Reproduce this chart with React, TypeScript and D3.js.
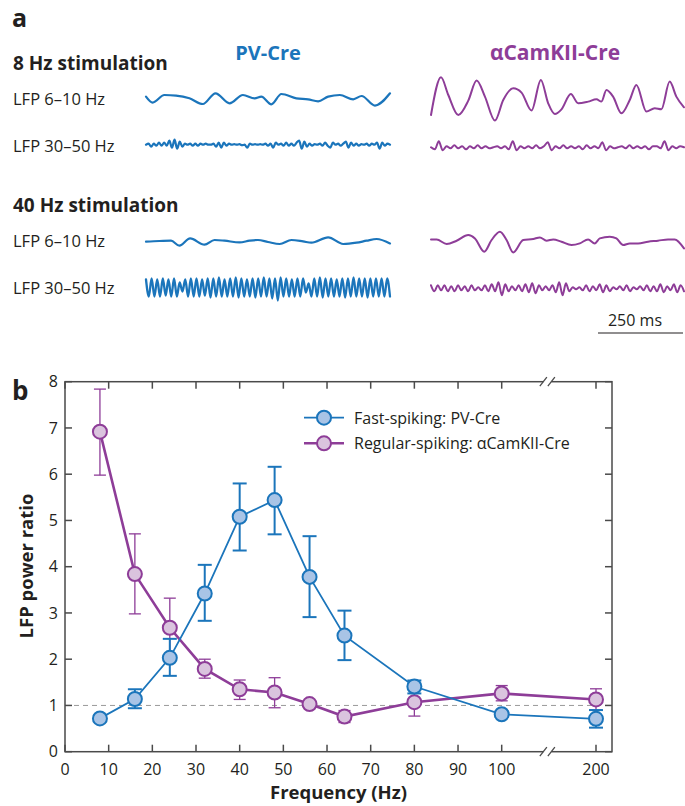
import * as d3 from "d3";

// ---------- panel b data (LFP power ratio vs stimulation frequency) ----------
const FREQS = [8, 16, 24, 32, 40, 48, 56, 64, 80, 100, 200];
const PV_MEAN = [0.72, 1.14, 2.03, 3.42, 5.08, 5.44, 3.78, 2.51, 1.41, 0.81, 0.71];
const PV_LO = [0.66, 0.94, 1.64, 2.83, 4.35, 4.7, 2.91, 1.98, 1.26, 0.75, 0.52];
const PV_HI = [0.78, 1.35, 2.44, 4.04, 5.8, 6.16, 4.66, 3.05, 1.54, 0.87, 0.9];
const CAM_MEAN = [6.92, 3.84, 2.68, 1.79, 1.35, 1.28, 1.03, 0.76, 1.07, 1.26, 1.13];
const CAM_LO = [5.98, 2.98, 2.07, 1.59, 1.13, 0.95, 0.97, 0.63, 0.77, 1.1, 0.9];
const CAM_HI = [7.84, 4.71, 3.32, 2.0, 1.55, 1.6, 1.09, 0.89, 1.37, 1.43, 1.36];
const X_TICKS = [0, 10, 20, 30, 40, 50, 60, 70, 80, 90, 100, 200];
const Y_TICKS = [0, 1, 2, 3, 4, 5, 6, 7, 8];
const BREAK_AT = 150;

// ---------- panel a data (example LFP traces, a.u.) ----------
// 8 Hz stim, PV-Cre, 6-10 Hz band: [time, value] at turning points
const PV8_THETA_T = [0, 20, 55, 90, 130, 170, 208, 250, 290, 325, 345, 375, 405, 450, 485, 515, 545, 580, 620, 645, 685, 730];
const PV8_THETA_V = [1.7, -4.3, 3.3, 2.7, 0, -5.7, 5, -5, 3.3, 0, 1.7, -6, 4.3, 0, -1, -3, 1.7, 3.3, -1, 2.3, -7.3, 5];
// 8 Hz stim, PV-Cre, 30-50 Hz band: evenly sampled
const PV8_GAMMA = [0, 1, -2, 1, -1, 2, -1, 2, -1, 4, -3, 5, -4, 3, -2, 1, 0, 1, -1, 1, -1, 1, 0, 1, 0, 0, 1, -2, 2, -3, 2, -1, 1, 0, 0.5, 0, 0.5, -0.5, 0, -3, 1, 0, 0.5, 0, 0.5, 0, 1, -1, 1, -3, 2, 0, 1, -1, 2, -1, 1, -1, 2, 4, -4, 3, -2, 1, -1, 0.5, 0, 1, -1, 2, -1, -3, 2, 0, 1, -1, 1, 3, -3, 2, -1, 1, -1, 0.5, 0, 1, -1, 1, 0, 2, -4, 2, -1, 1, 0];
// 8 Hz stim, aCamKII-Cre, 6-10 Hz band
const CAM8_THETA_T = [0, 30, 52, 82, 112, 137, 162, 192, 217, 247, 272, 302, 330, 352, 372, 392, 420, 442, 472, 497, 512, 527, 547, 572, 597, 617, 647, 672, 692, 717, 737, 760];
const CAM8_THETA_V = [-15.7, 22, 4.3, -15.7, -1.3, 18.7, 2.7, -21.3, -0.7, 11, 6.7, -11.3, 19.3, -4, -14.7, -10, 5.3, -4, -2.3, 0, -2.3, 9.3, 2.7, -14, -0.7, 14.3, -12.3, -9, -10, 17.7, 2.7, -8];
// 8 Hz stim, aCamKII-Cre, 30-50 Hz band
const CAM8_GAMMA = [0, -2, 6, -3, 1, -1, 2, -1, 1, -2, 1, -1, 2, -1, 1, -1, 0, 1, -1, 1, -2, 6, -3, 1, -1, 1, -1, 2, -1, 1, 5, -3, 1, -1, 2, -1, 1, -1, 1, -2, 2, -1, 1, -1, 5, -3, 1, -1, 0, 1, -1, 2, -1, 1, -1, 1, -2, 1, 1, -1, 6, -3, 1, -1, 1, 0];
// 40 Hz stim, PV-Cre, 6-10 Hz band
const PV40_THETA_T = [0, 40, 75, 100, 132, 175, 205, 235, 280, 310, 335, 365, 400, 435, 470, 495, 545, 590, 630, 660, 690, 730];
const PV40_THETA_V = [0, 0.7, 1, -4, 3.3, -3, 1.7, 1, -0.7, 1, 1.7, -0.3, -2.3, 1.7, 0.3, -1, 4.3, -2.3, -1, 1, 2.7, -1.7];
// 40 Hz stim, PV-Cre, 30-50 Hz band (peaks and troughs)
const PV40_GAMMA = [8, -9, 9, -9, 8, -9, 9, -8, 8, -9, 9, -9, 5, -4, 8, -9, 9, -9, 9, -9, 8, -8, 9, -10, 9, -9, 10, -9, 8, -9, 9, -9, 10, -10, 9, -9, 8, -9, 9, -10, 9, -9, 10, -9, 9, -11, 9, -13, 10, -9, 9, -9, 8, -9, 9, -9, 9, -5, 4, -9, 9, -9, 10, -10, 9, -9, 9, -9, 8, -9, 9, -10, 9, -9, 10, -9, 9, -9, 9, -10, 9, -9, 9, -9, 9, -9, 9, -9];
// 40 Hz stim, aCamKII-Cre, 6-10 Hz band
const CAM40_THETA_T = [0, 17, 47, 77, 112, 132, 160, 182, 207, 227, 247, 277, 307, 327, 347, 367, 392, 422, 447, 472, 492, 507, 537, 557, 577, 597, 622, 652, 682, 712, 732, 760];
const CAM40_THETA_V = [1.3, 1.3, -3.3, 0, 5.7, 2.3, -11, 0.7, 9, 0.7, -11.7, 0.7, 1.7, 3.3, 0, 1.3, -1, -4.3, -2.7, 1.3, -2.7, 2.3, 4, 2.3, -4.3, -2.7, -2.7, -1, 0, 1.3, 1.3, -7.7];
// 40 Hz stim, aCamKII-Cre, 30-50 Hz band
const CAM40_GAMMA = [3, -3, 3, -2, 3, -3, 2, -3, 3, -2, 2, -3, 3, -2, 1, -2, 3, -3, 4, -3, 6, -7, 4, -3, 2, -2, 3, -3, 4, -4, 5, -5, 3, -2, 2, -2, 3, -4, 6, -7, 5, -3, 1, -1, 1, -2, 3, -3, 2, -2, 4, -4, 3, -3, 1, -1, 2, -2, 3, -3, 1, -1, 2, -2, 3, -3, 2, -3, 4, -4, 2, -2, 4, -4, 3, -3];

const BLUE = "#1b75bb";
const BLUE_FILL = "#a9c4e6";
const PURPLE = "#8e3d98";
const PURPLE_FILL = "#dac4de";
const AXIS = "#4a4a4a";
const INK = "#231f20";
const FONT = "'Open Sans', sans-serif";

const zip = (t: number[], v: number[]) => t.map((d, i) => [d, v[i]] as [number, number]);
const seq = (v: number[]) => v.map((d, i) => [i, d] as [number, number]);

function Trace({ pts, x0, x1, cy, color, w = 2 }: any) {
  const x = d3.scaleLinear().domain(d3.extent(pts, (d: any) => d[0]) as any).range([x0, x1]);
  const y = d3.scaleLinear().domain([-1, 1]).range([cy + 1, cy - 1]);
  const line = d3
    .line<[number, number]>()
    .x((d) => x(d[0]))
    .y((d) => y(d[1]))
    .curve(d3.curveMonotoneX);
  return <path d={line(pts) || ""} fill="none" stroke={color} strokeWidth={w} strokeLinejoin="round" strokeLinecap="round" />;
}

function PanelA() {
  const PV = [146, 390];
  const CAM = [431, 684];
  const lab = { fontSize: 16.5, fill: INK };
  return (
    <g>
      <text x={12} y={27} fontSize={25} fontWeight="bold" fill={INK}>a</text>
      <text x={268} y={60} fontSize={20} fontWeight="bold" fill={BLUE} textAnchor="middle">PV-Cre</text>
      <text x={555} y={60} fontSize={21} fontWeight="bold" fill={PURPLE} textAnchor="middle">αCamKII-Cre</text>

      <text x={13} y={70} fontSize={19} fontWeight="bold" fill={INK}>8 Hz stimulation</text>
      <text x={13} y={105} {...lab}>LFP 6–10 Hz</text>
      <text x={13} y={152} {...lab}>LFP 30–50 Hz</text>
      <Trace pts={zip(PV8_THETA_T, PV8_THETA_V)} x0={PV[0]} x1={PV[1]} cy={98.3} color={BLUE} w={2.2} />
      <Trace pts={seq(PV8_GAMMA)} x0={PV[0]} x1={PV[1]} cy={144.7} color={BLUE} w={2.2} />
      <Trace pts={zip(CAM8_THETA_T, CAM8_THETA_V)} x0={CAM[0]} x1={CAM[1]} cy={99.3} color={PURPLE} w={2} />
      <Trace pts={seq(CAM8_GAMMA)} x0={CAM[0]} x1={CAM[1]} cy={147.3} color={PURPLE} w={2} />

      <text x={13} y={212} fontSize={19} fontWeight="bold" fill={INK}>40 Hz stimulation</text>
      <text x={13} y={247} {...lab}>LFP 6–10 Hz</text>
      <text x={13} y={294} {...lab}>LFP 30–50 Hz</text>
      <Trace pts={zip(PV40_THETA_T, PV40_THETA_V)} x0={PV[0]} x1={PV[1]} cy={241.7} color={BLUE} w={2.2} />
      <Trace pts={seq(PV40_GAMMA)} x0={PV[0]} x1={PV[1]} cy={287.5} color={BLUE} w={2.3} />
      <Trace pts={zip(CAM40_THETA_T, CAM40_THETA_V)} x0={CAM[0]} x1={CAM[1]} cy={240.7} color={PURPLE} w={2} />
      <Trace pts={seq(CAM40_GAMMA)} x0={CAM[0]} x1={CAM[1]} cy={288.3} color={PURPLE} w={2} />

      <text x={635} y={326} fontSize={16} fill={INK} textAnchor="middle">250 ms</text>
      <line x1={598} x2={683} y1={333} y2={333} stroke={INK} strokeWidth={1.2} />
    </g>
  );
}

function Series({ x, y, mean, lo, hi, color, fill, lw, ew, cap }: any) {
  const line = d3
    .line<number>()
    .x((_, i) => x(FREQS[i]))
    .y((d) => y(d));
  return (
    <g>
      <path d={line(mean) || ""} fill="none" stroke={color} strokeWidth={lw} />
      {FREQS.map((f, i) => (
        <g key={f} stroke={color} strokeWidth={ew}>
          <line x1={x(f)} x2={x(f)} y1={y(lo[i])} y2={y(hi[i])} />
          <line x1={x(f) - cap} x2={x(f) + cap} y1={y(lo[i])} y2={y(lo[i])} />
          <line x1={x(f) - cap} x2={x(f) + cap} y1={y(hi[i])} y2={y(hi[i])} />
        </g>
      ))}
      {FREQS.map((f, i) => (
        <circle key={f} cx={x(f)} cy={y(mean[i])} r={7} fill={fill} stroke={color} strokeWidth={2} />
      ))}
    </g>
  );
}

function PanelB() {
  const left = 65, right = 612, top = 381.7, bottom = 751.7;
  const x = d3.scaleLinear().domain([0, 100, 200, 217]).range([left, 501.7, 596, right]);
  const y = d3.scaleLinear().domain([0, 8]).range([bottom, top]);
  const xb = x(BREAK_AT) - 1.5;
  const tk = 7;
  return (
    <g>
      <text x={12} y={400} fontSize={26} fontWeight="bold" fill={INK}>b</text>

      <line x1={left} x2={right} y1={y(1)} y2={y(1)} stroke="#9a9a9a" strokeWidth={1} strokeDasharray="5,4" />

      <rect x={left} y={top} width={right - left} height={bottom - top} fill="none" stroke={AXIS} strokeWidth={1.5} />
      {X_TICKS.map((t) => (
        <g key={t} stroke={AXIS} strokeWidth={1.5}>
          <line x1={x(t)} x2={x(t)} y1={bottom} y2={bottom - tk} />
          <line x1={x(t)} x2={x(t)} y1={top} y2={top + tk} />
        </g>
      ))}
      {Y_TICKS.map((t) => (
        <g key={t} stroke={AXIS} strokeWidth={1.5}>
          <line x1={left} x2={left + tk} y1={y(t)} y2={y(t)} />
          <line x1={right} x2={right - tk} y1={y(t)} y2={y(t)} />
        </g>
      ))}
      {[top, bottom].map((yy) => (
        <g key={yy}>
          <rect x={xb - 4} y={yy - 3} width={8} height={6} fill="white" />
          <line x1={xb - 7.5} x2={xb - 0.5} y1={yy + 4.5} y2={yy - 4.5} stroke={AXIS} strokeWidth={1.3} />
          <line x1={xb + 0.5} x2={xb + 7.5} y1={yy + 4.5} y2={yy - 4.5} stroke={AXIS} strokeWidth={1.3} />
        </g>
      ))}

      {X_TICKS.map((t) => (
        <text key={t} x={x(t)} y={775} fontSize={16} fill={INK} textAnchor="middle">{t}</text>
      ))}
      {Y_TICKS.map((t) => (
        <text key={t} x={58} y={y(t)} dy="0.35em" fontSize={16} fill={INK} textAnchor="end">{t}</text>
      ))}
      <text x={338.5} y={799} fontSize={18.5} fontWeight="bold" fill={INK} textAnchor="middle">Frequency (Hz)</text>
      <text transform={`translate(33,566) rotate(-90)`} fontSize={18.5} fontWeight="bold" fill={INK} textAnchor="middle">LFP power ratio</text>

      <Series x={x} y={y} mean={CAM_MEAN} lo={CAM_LO} hi={CAM_HI} color={PURPLE} fill={PURPLE_FILL} lw={2.6} ew={1.3} cap={6} />
      <Series x={x} y={y} mean={PV_MEAN} lo={PV_LO} hi={PV_HI} color={BLUE} fill={BLUE_FILL} lw={1.8} ew={2} cap={7} />

      <g>
        <line x1={304} x2={344} y1={417.7} y2={417.7} stroke={BLUE} strokeWidth={1.8} />
        <circle cx={324} cy={417.7} r={7} fill={BLUE_FILL} stroke={BLUE} strokeWidth={2} />
        <text x={354} y={423.5} fontSize={16} fill={INK}>Fast-spiking: PV-Cre</text>
        <line x1={304} x2={344} y1={443.3} y2={443.3} stroke={PURPLE} strokeWidth={2.6} />
        <circle cx={324} cy={443.3} r={7} fill={PURPLE_FILL} stroke={PURPLE} strokeWidth={2} />
        <text x={354} y={449} fontSize={16} fill={INK}>Regular-spiking: αCamKII-Cre</text>
      </g>
    </g>
  );
}

export default function App() {
  return (
    <svg width={685} height={806} style={{ position: "absolute", left: 0, top: 0, background: "white", fontFamily: FONT }}>
      <PanelA />
      <PanelB />
    </svg>
  );
}
